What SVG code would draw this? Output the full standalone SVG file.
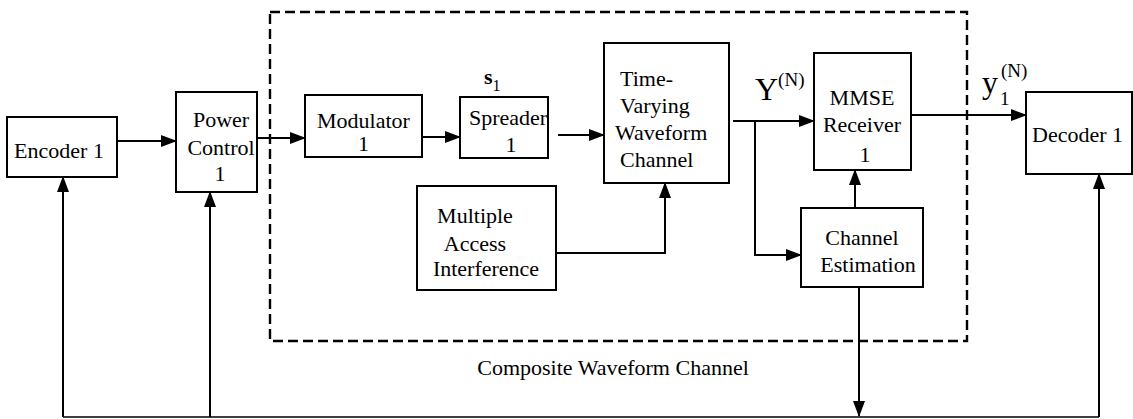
<svg xmlns="http://www.w3.org/2000/svg" width="1133" height="419" viewBox="0 0 1133 419">
<defs>
<marker id="ah" markerWidth="16" markerHeight="12" refX="15" refY="6" orient="auto" markerUnits="userSpaceOnUse">
<path d="M0,0 L16,6 L0,12 Z" fill="#000"/>
</marker>
<style>
.box{fill:#fff;stroke:#000;stroke-width:2}
.mid{text-anchor:middle}
.cn{fill:none;stroke:#000;stroke-width:2}
.fb{fill:none;stroke:#000;stroke-width:1.6}
</style>
</defs>
<rect width="1133" height="419" fill="#fff"/>
<g font-family="Liberation Serif, Times New Roman, serif" font-size="22" fill="#000">
<g id="composite">
<rect x="270" y="12" width="697" height="329" fill="none" stroke="#000" stroke-width="2.4" stroke-dasharray="10,5"/>
<text class="mid" x="613" y="375">Composite Waveform Channel</text>
</g>
<g id="encoder">
<rect class="box" x="7" y="117" width="110" height="60"/>
<text class="mid" x="59" y="158">Encoder 1</text>
</g>
<g id="power">
<rect class="box" x="176" y="92" width="81" height="100"/>
<text class="mid" x="221" y="127">Power</text>
<text class="mid" x="221" y="155">Control</text>
<text class="mid" x="220" y="181">1</text>
</g>
<g id="modulator">
<rect class="box" x="305" y="95" width="117" height="62"/>
<text class="mid" x="363.5" y="128">Modulator</text>
<text class="mid" x="363.5" y="151">1</text>
</g>
<g id="spreader">
<rect class="box" x="460" y="97" width="88" height="61"/>
<text class="mid" x="508" y="125">Spreader</text>
<text class="mid" x="511" y="152">1</text>
<text x="484" y="84" font-weight="bold">s<tspan font-size="16" font-weight="normal" dy="7">1</tspan></text>
</g>
<g id="tvwc">
<rect class="box" x="604" y="43" width="125" height="140"/>
<text x="620" y="86">Time-</text>
<text x="620" y="113">Varying</text>
<text x="615" y="140">Waveform</text>
<text x="620" y="167">Channel</text>
</g>
<g id="mai">
<rect class="box" x="417" y="186" width="139" height="104"/>
<text class="mid" x="475" y="223">Multiple</text>
<text class="mid" x="475" y="251">Access</text>
<text class="mid" x="486" y="276">Interference</text>
</g>
<g id="mmse">
<rect class="box" x="814" y="53" width="97" height="117"/>
<text class="mid" x="862" y="105">MMSE</text>
<text class="mid" x="862" y="132">Receiver</text>
<text class="mid" x="865" y="162">1</text>
</g>
<g id="chest">
<rect class="box" x="801" y="208" width="122" height="79"/>
<text class="mid" x="862" y="245">Channel</text>
<text class="mid" x="868" y="272">Estimation</text>
</g>
<g id="decoder">
<rect class="box" x="1026" y="92" width="106" height="82"/>
<text x="1032" y="142">Decoder 1</text>
</g>
<g id="labels">
<text x="755" y="100" font-size="32">Y<tspan font-size="19" dy="-14">(N)</tspan></text>
<text x="982" y="93" font-size="32">y</text>
<text x="1000" y="105" font-size="19">1</text>
<text x="1001" y="77" font-size="19">(N)</text>
</g>
</g>
<g id="connectors">
<line class="cn" x1="117" y1="141" x2="176" y2="141" marker-end="url(#ah)"/>
<line class="cn" x1="257" y1="138" x2="305" y2="138" marker-end="url(#ah)"/>
<line class="cn" x1="422" y1="137" x2="460" y2="137" marker-end="url(#ah)"/>
<line class="cn" x1="558" y1="135" x2="604" y2="135" marker-end="url(#ah)"/>
<line class="cn" x1="733" y1="121" x2="814" y2="121" marker-end="url(#ah)"/>
<polyline class="cn" points="755,121 755,255 801,255" marker-end="url(#ah)"/>
<polyline class="cn" points="556,253 665,253 665,183" marker-end="url(#ah)"/>
<line class="cn" x1="855" y1="208" x2="855" y2="170" marker-end="url(#ah)"/>
<line class="cn" x1="911" y1="115" x2="1026" y2="115" marker-end="url(#ah)"/>
<line class="cn" x1="859" y1="287" x2="859" y2="416" marker-end="url(#ah)"/>
<line class="fb" x1="63" y1="417" x2="1099" y2="417"/>
<line class="cn" x1="63" y1="417" x2="63" y2="177" marker-end="url(#ah)"/>
<line class="cn" x1="210" y1="417" x2="210" y2="192" marker-end="url(#ah)"/>
<line class="cn" x1="1099" y1="417" x2="1099" y2="174" marker-end="url(#ah)"/>
</g>
</svg>
